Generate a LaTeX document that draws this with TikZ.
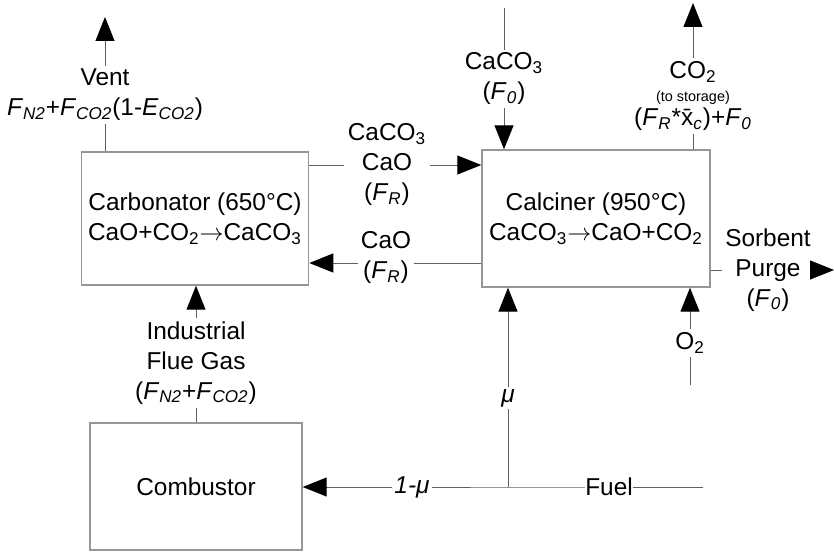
\documentclass[tikz,border=0pt]{standalone}
\usepackage{fontspec}
\setmainfont{Liberation Sans}
\definecolor{boxgray}{RGB}{150,150,150}
\definecolor{linegray}{RGB}{95,95,95}
\usetikzlibrary{arrows.meta,positioning}
\newcommand{\Fs}[1]{\textit{F}\textsubscript{\textit{#1}}}
\newcommand{\yields}{$\rightarrow$}

\begin{document}
\begin{tikzpicture}[x=0.5pt,y=-0.5pt,
  font=\fontsize{12.2}{15}\selectfont,
  unit/.style={draw=boxgray,line width=0.7pt,align=center},
  flow/.style={draw=linegray,line width=0.5pt},
  feed/.style={flow,-{Triangle[length=12pt,width=9.5pt,color=black]}},
  lbl/.style={align=center,inner sep=1.5pt}]
  \useasboundingbox (0,0) rectangle (834,551);
  % Reactors and combustor
  \node[unit,minimum width=111pt,minimum height=66.5pt] (carb) at (195,218.5)
    {Carbonator (650°C)\\CaO+CO\textsubscript{2}\yields CaCO\textsubscript{3}};
  \node[unit,minimum width=114pt,minimum height=68.5pt] (calc) at (596,218.5)
    {Calciner (950°C)\\CaCO\textsubscript{3}\yields CaO+CO\textsubscript{2}};
  \node[unit,minimum width=106pt,minimum height=63.5pt] (comb) at (196,486.5) {Combustor};
  % Stream labels
  \node[lbl] (vent) at (105,95) {Vent\\\Fs{N2}+\Fs{CO2}(1-\textit{E}\textsubscript{\textit{CO2}})};
  \node[lbl] (fwd) at (387,165) {CaCO\textsubscript{3}\\CaO\\(\Fs{R})};
  \node[lbl] (ret) at (386,258) {CaO\\(\Fs{R})};
  \node[lbl] (lime) at (504,79) {CaCO\textsubscript{3}\\(\Fs{0})};
  \node[lbl] (co2) at (693,96) {CO\textsubscript{2}\\[-3.5pt]{\fontsize{7.2}{9}\selectfont (to storage)}\\[-3pt](\Fs{R}*\={x}\textsubscript{\textit{c}})+\Fs{0}};
  \node[lbl] (purge) at (768,270) {Sorbent\\Purge\\(\Fs{0})};
  \node[lbl] (oxy) at (690,343) {O\textsubscript{2}};
  \node[lbl] (flue) at (196,363) {Industrial\\Flue Gas\\(\Fs{N2}+\Fs{CO2})};
  \node[lbl,inner sep=1pt] (mu) at (508,398) {\textit{μ}};
  \node[lbl,inner sep=1pt] (omu) at (412,487) {\textit{1-μ}};
  \node[inner sep=0pt] (fuel) at (609,487) {Fuel};
  % Free ends
  \coordinate (ventout) at (105,17);
  \coordinate (co2out) at (693,3);
  \coordinate (limein) at (504,8);
  \coordinate (purgeout) at (834,270);
  \coordinate (oxyin) at (690,385);
  \coordinate (fuelin) at (703,487);
  \coordinate (split) at (508,487);
  \coordinate (retR) at ([yshift=-2.5pt]ret.east);
  \coordinate (retL) at ([yshift=-2.5pt]ret.west);
  % Carbonator streams
  \draw[flow] (vent.south |- carb.north) -- (vent.south);
  \draw[feed] (vent.north) -- (ventout);
  \draw[flow] (carb.east |- fwd.west) -- (fwd.west);
  \draw[feed] (fwd.east) -- (calc.west |- fwd.east);
  \draw[flow] (retR -| calc.west) -- (retR);
  \draw[feed] (retL) -- (retL -| carb.east);
  \draw[flow] (comb.north) -- (flue.south);
  \draw[feed] (flue.north) -- (flue.north |- carb.south);
  % Calciner streams
  \draw[flow] (limein) -- (lime.north);
  \draw[feed] (lime.south) -- (lime.south |- calc.north);
  \draw[flow] (co2.south |- calc.north) -- (co2.south);
  \draw[feed] (co2.north) -- (co2out);
  \draw[flow] (calc.east |- purge.west) -- (purge.west);
  \draw[feed] (purge.east) -- (purgeout);
  \draw[flow] (oxyin) -- (oxy.south);
  \draw[feed] (oxy.north) -- (oxy.north |- calc.south);
  % Fuel split
  \draw[flow] (fuelin) -- (fuel.east);
  \draw[flow] (fuel.west) -- (split) -- (omu.east);
  \draw[feed] (omu.west) -- (comb.east |- omu.west);
  \draw[flow] (split) -- (mu.south);
  \draw[feed] (mu.north) -- (mu.north |- calc.south);
\end{tikzpicture}
\end{document}
